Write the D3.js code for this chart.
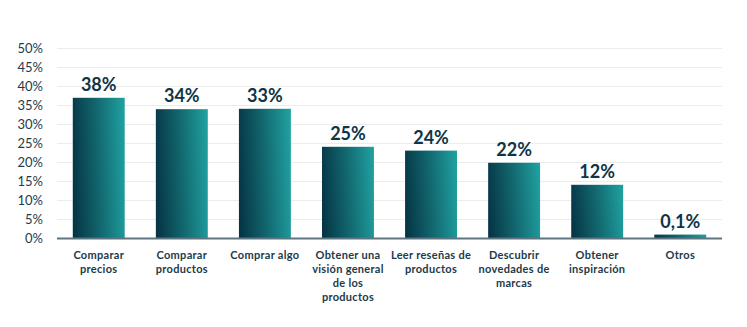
<!DOCTYPE html>
<html>
<head>
<meta charset="utf-8">
<script src="https://cdn.jsdelivr.net/npm/d3@7/dist/d3.min.js"></script>
<style>
  html, body { margin: 0; padding: 0; background: #fff; }
  svg { display: block; }
  text { font-family: Lato, "Open Sans", sans-serif; }
</style>
</head>
<body>
<svg id="chart" width="747" height="327"></svg>
<script>
const categories = [
  "Comparar\nprecios",
  "Comparar\nproductos",
  "Comprar algo",
  "Obtener una\nvisión general\nde los\nproductos",
  "Leer reseñas de\nproductos",
  "Descubrir\nnovedades de\nmarcas",
  "Obtener\ninspiración",
  "Otros"
];
const values = [36.9, 33.9, 34.0, 24.0, 23.0, 19.8, 14.0, 0.9];
const valueLabels = ["38%", "34%", "33%", "25%", "24%", "22%", "12%", "0,1%"];
const yTicks = [0, 5, 10, 15, 20, 25, 30, 35, 40, 45, 50];

const svg = d3.select("#chart");
const margin = { left: 57, right: 25, top: 48, bottom: 89 };
const W = 747, H = 327;
const x0 = margin.left, x1 = W - margin.right;
const yBase = H - margin.bottom, yTop = margin.top;

const x = d3.scaleBand().domain(d3.range(categories.length)).range([x0, x1]).paddingInner(0.375).paddingOuter(0.19);
const y = d3.scaleLinear().domain([0, 50]).range([yBase, yTop]);

const defs = svg.append("defs");
const grad = defs.append("linearGradient").attr("id", "barGrad")
  .attr("x1", "0").attr("y1", "0.55").attr("x2", "1").attr("y2", "0.45");
grad.append("stop").attr("offset", "0%").attr("stop-color", "#063646");
grad.append("stop").attr("offset", "50%").attr("stop-color", "#12686f");
grad.append("stop").attr("offset", "100%").attr("stop-color", "#1f9e9e");

// grid
svg.append("g").selectAll("line").data(yTicks.filter(d => d > 0)).join("line")
  .attr("x1", x0).attr("x2", x1)
  .attr("y1", d => Math.round(y(d)) + 0.5).attr("y2", d => Math.round(y(d)) + 0.5)
  .attr("stroke", "#ececec").attr("stroke-width", 1);

// y axis
const yAxis = d3.axisLeft(y).tickValues(yTicks).tickFormat(d => d + "%").tickSize(0).tickPadding(0);
const ga = svg.append("g").attr("transform", `translate(${x0 - 14},0)`).call(yAxis);
ga.select(".domain").remove();
ga.selectAll("text").attr("font-size", 13).attr("fill", "#1e3b4b").attr("font-family", "Lato");

// bars
svg.append("g").selectAll("rect").data(values).join("rect")
  .attr("x", (d, i) => x(i)).attr("width", x.bandwidth())
  .attr("y", d => y(d)).attr("height", d => yBase - y(d))
  .attr("fill", "url(#barGrad)");

// baseline
svg.append("line").attr("x1", x0).attr("x2", x1).attr("y1", yBase + 0.5).attr("y2", yBase + 0.5)
  .attr("stroke", "#5e7581").attr("stroke-width", 2);

// value labels
svg.append("g").selectAll("text").data(values).join("text")
  .attr("x", (d, i) => x(i) + x.bandwidth() / 2)
  .attr("y", d => y(d) - 7)
  .attr("text-anchor", "middle").attr("font-size", 18).attr("font-weight", 700)
  .attr("fill", "#0f3446")
  .text((d, i) => valueLabels[i]);

// category labels
const cg = svg.append("g").selectAll("text").data(categories).join("text")
  .attr("text-anchor", "middle").attr("font-size", 11).attr("font-weight", 700)
  .attr("fill", "#1c3a4a").attr("letter-spacing", 0.3);
cg.each(function (d, i) {
  const t = d3.select(this);
  d.split("\n").forEach((ln, j) => {
    t.append("tspan").attr("x", x(i) + x.bandwidth() / 2).attr("y", yBase + 21 + j * 14).text(ln);
  });
});
</script>
</body>
</html>
